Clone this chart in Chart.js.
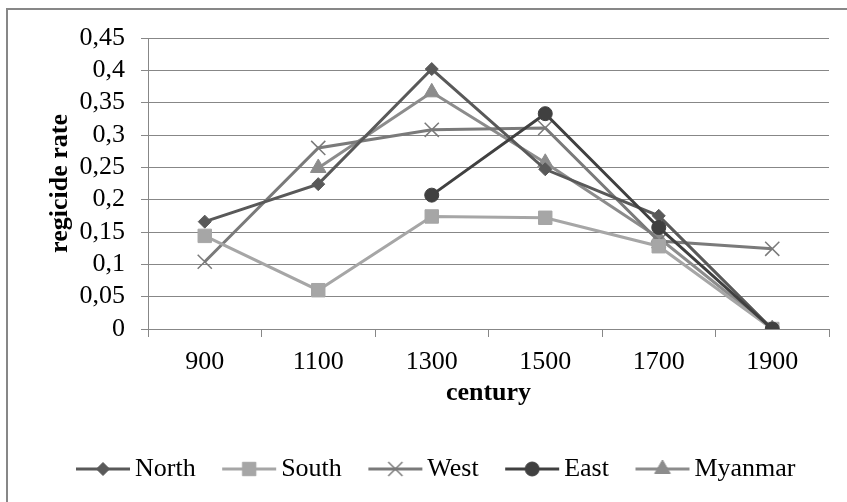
<!DOCTYPE html>
<html>
<head>
<meta charset="utf-8">
<script src="https://cdn.jsdelivr.net/npm/chart.js@4.4.1/dist/chart.umd.min.js"></script>
<style>
  body { margin: 0; background: #fff; }
  #wrap { position: relative; width: 847px; height: 502px; overflow: hidden; }
  #frame { position: absolute; left: 6px; top: 8px; width: 900px; height: 600px;
           border-left: 2px solid #878787; border-top: 2px solid #878787; }
  #chart { position: absolute; left: 0; top: 0; }
</style>
</head>
<body>
<div id="wrap">
  <div id="frame"></div>
  <canvas id="chart" width="847" height="502"></canvas>
</div>
<script>
var centuries = ['900', '1100', '1300', '1500', '1700', '1900'];
var north   = [0.166, 0.224, 0.402, 0.247, 0.175, 0];
var south   = [0.144, 0.060, 0.174, 0.172, 0.128, 0];
var west    = [0.104, 0.280, 0.308, 0.311, 0.136, 0.124];
var east    = [null, null, 0.207, 0.333, 0.157, 0];
var myanmar = [null, 0.249, 0.366, 0.257, 0.141, 0];
var yMax = 0.45;
var yStep = 0.05;

var FONT = "'Liberation Serif', 'Times New Roman', serif";
var GRID = '#878787';

var series = [
  { label: 'North',   data: north,   color: '#595959', style: 'rectRot',  r: 6.5, bw: 1 },
  { label: 'South',   data: south,   color: '#a6a6a6', style: 'rect',     r: 9.5, bw: 1 },
  { label: 'West',    data: west,    color: '#7a7a7a', style: 'crossRot', r: 10,  bw: 1.5 },
  { label: 'East',    data: east,    color: '#404040', style: 'circle',   r: 7,   bw: 1 },
  { label: 'Myanmar', data: myanmar, color: '#8c8c8c', style: 'triangle', r: 9,   bw: 1 }
];

// legend icon: line with the marker in the middle
function legendIcon(s) {
  var c = document.createElement('canvas');
  c.width = 56; c.height = 22;
  var ctx = c.getContext('2d');
  ctx.strokeStyle = s.color;
  ctx.fillStyle = s.color;
  ctx.lineWidth = 3;
  ctx.beginPath();
  ctx.moveTo(1, 11);
  ctx.lineTo(55, 11);
  ctx.stroke();
  ctx.lineWidth = s.bw;
  Chart.helpers.drawPoint(ctx, { pointStyle: s.style, radius: s.r, borderWidth: s.bw, rotation: 0 }, 28, 11);
  return c;
}
var icons = series.map(legendIcon);

// excel style legend row (line + marker, then the name)
var lineLegend = {
  id: 'lineLegend',
  afterDraw: function(chart) {
    var ctx = chart.ctx;
    ctx.save();
    ctx.font = '26px ' + FONT;
    ctx.textBaseline = 'middle';
    ctx.fillStyle = '#000';
    var x = 76, y = 469;
    series.forEach(function(s, i) {
      ctx.drawImage(icons[i], x - 1, y - 11);
      ctx.fillText(s.label, x + 59, y);
      x += 59 + ctx.measureText(s.label).width + 26.5;
    });
    ctx.restore();
  }
};

var datasets = series.map(function(s) {
  return {
    label: s.label,
    data: s.data,
    borderColor: s.color,
    backgroundColor: s.color,
    borderWidth: 3,
    pointStyle: s.style,
    pointRadius: s.r,
    pointBorderWidth: s.bw,
    pointBackgroundColor: s.color,
    pointBorderColor: s.color,
    tension: 0,
    order: s.label === 'East' ? 0 : 1
  };
});

new Chart(document.getElementById('chart').getContext('2d'), {
  type: 'line',
  data: { labels: centuries, datasets: datasets },
  plugins: [lineLegend],
  options: {
    responsive: false,
    animation: false,
    layout: { padding: { left: 0, right: 18, top: 38, bottom: 80 } },
    plugins: {
      tooltip: { enabled: false },
      legend: { display: false }
    },
    scales: {
      x: {
        offset: true,
        grid: { offset: true, drawOnChartArea: false, drawTicks: true, tickLength: 8, color: GRID },
        border: { color: GRID, width: 1 },
        ticks: { color: '#000', padding: 10, font: { family: FONT, size: 26 } },
        title: { display: true, text: 'century', color: '#000', padding: { top: 0, bottom: 13 },
                 font: { family: FONT, size: 26, weight: 'bold' } },
        afterFit: function(scale) { scale.height = 93; }
      },
      y: {
        min: 0,
        max: yMax,
        grid: { color: GRID, lineWidth: 1, tickLength: 7 },
        border: { color: GRID, width: 1 },
        ticks: {
          stepSize: yStep,
          autoSkip: false,
          color: '#000',
          padding: 16,
          font: { family: FONT, size: 26, lineHeight: 1 },
          callback: function(v) { return String(Math.round(v * 100) / 100).replace('.', ','); }
        },
        title: { display: true, text: 'regicide rate', color: '#000', padding: { top: 50, bottom: 0 },
                 font: { family: FONT, size: 26, weight: 'bold', lineHeight: 0.8 } },
        afterFit: function(scale) { scale.width = 148; }
      }
    }
  }
});
</script>
</body>
</html>
